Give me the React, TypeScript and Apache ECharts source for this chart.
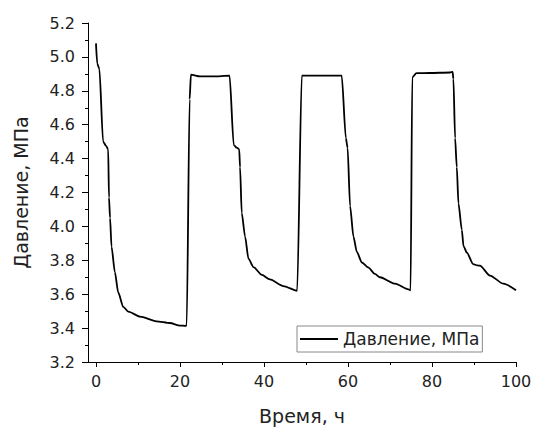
import React, { useEffect, useRef } from "react";
import * as echarts from "echarts";

const timeH = [
  0, 0.3, 0.8, 1.7, 2.4, 2.9, 3.1, 3.35, 3.7, 4.5, 5.3, 6.5, 7.7, 10.5, 14.4, 17.6, 20.0, 21.4,
  21.6, 22.3, 22.6, 24.8, 27.9, 31.8,
  32.8, 33.5, 34.1, 34.3, 34.7, 35.5, 36.3, 37.5, 39.5, 41.4, 44.6, 47.9,
  49.0, 54.0, 58.5,
  59.5, 59.9, 60.5, 61.3, 62.1, 63.3, 64.8, 66.4, 67.6, 71.2, 74.4, 74.9,
  75.3, 76.3, 79.5, 84.3, 84.9,
  85.1, 85.5, 85.9, 86.3, 87.1, 87.5, 88.3, 89.8, 90.8, 91.4, 93.8, 97.0, 100.0,
];

const pressureMPa = [
  5.08, 4.96, 4.93, 4.5, 4.475, 4.455, 4.17, 4.05, 3.88, 3.73, 3.61, 3.525, 3.497, 3.468, 3.44, 3.43, 3.415, 3.413,
  3.42, 4.75, 4.895, 4.885, 4.885, 4.889,
  4.48, 4.465, 4.455, 4.35, 4.08, 3.94, 3.81, 3.76, 3.714, 3.687, 3.648, 3.62,
  4.889, 4.889, 4.889,
  4.52, 4.464, 4.12, 3.94, 3.85, 3.787, 3.758, 3.72, 3.7, 3.662, 3.629, 3.622,
  4.879, 4.904, 4.905, 4.908, 4.912,
  4.87, 4.52, 4.35, 4.135, 3.98, 3.884, 3.845, 3.778, 3.77, 3.768, 3.71, 3.662, 3.623,
];

const xTickValues = [0, 20, 40, 60, 80, 100];
const xMinorTickValues = [10, 30, 50, 70, 90];
const seriesName = "Давление, МПа";
const xAxisTitle = "Время, ч";
const yAxisTitle = "Давление, МПа";

export default function App() {
  const ref = useRef<HTMLDivElement>(null);
  useEffect(() => {
    const chart = echarts.init(ref.current!, null, { renderer: "svg" });
    const font = "DejaVu Sans";
    const txt = "#222";
    chart.setOption({
      animation: false,
      grid: { left: 88, right: 19, top: 23, bottom: 62, containLabel: false },
      legend: {
        show: true,
        left: 297,
        top: 326,
        padding: [4, 3, 4, 3],
        borderColor: "#888",
        borderWidth: 1,
        itemWidth: 38,
        itemHeight: 2,
        icon: "rect",
        data: [seriesName],
        itemStyle: { color: "#000" },
        textStyle: { fontFamily: font, fontSize: 17, color: txt, lineHeight: 18 },
      },
      xAxis: [
        {
          type: "value",
          min: -1.9,
          max: 100,
          name: xAxisTitle,
          nameLocation: "middle",
          nameGap: 44,
          nameTextStyle: { fontFamily: font, fontSize: 19, color: txt },
          axisLine: { show: true, onZero: false, lineStyle: { color: "#000", width: 1 } },
          axisTick: { show: true, customValues: xTickValues, length: 5, lineStyle: { color: "#000" } },
          axisLabel: {
            show: true,
            customValues: xTickValues,
            margin: 11,
            fontFamily: font,
            fontSize: 16,
            color: txt,
          },
          splitLine: { show: false },
        },
        {
          type: "value",
          min: -1.9,
          max: 100,
          position: "bottom",
          axisLine: { show: false, onZero: false },
          axisTick: { show: true, customValues: xMinorTickValues, length: 3, lineStyle: { color: "#000" } },
          axisLabel: { show: false },
          splitLine: { show: false },
        },
      ],
      yAxis: {
        type: "value",
        min: 3.2,
        max: 5.2,
        interval: 0.2,
        name: yAxisTitle,
        nameLocation: "middle",
        nameGap: 58,
        nameTextStyle: { fontFamily: font, fontSize: 19, color: txt },
        axisLine: { show: true, onZero: false, lineStyle: { color: "#000", width: 1 } },
        axisTick: { show: true, length: 6, lineStyle: { color: "#000" } },
        minorTick: { show: true, splitNumber: 2, length: 3, lineStyle: { color: "#000" } },
        axisLabel: {
          margin: 13,
          fontFamily: font,
          fontSize: 16,
          color: txt,
          formatter: (v: number) => v.toFixed(1),
        },
        splitLine: { show: false },
        minorSplitLine: { show: false },
      },
      series: [
        {
          type: "line",
          name: seriesName,
          xAxisIndex: 0,
          data: timeH.map((t, i) => [t, pressureMPa[i]]),
          symbol: "none",
          smooth: 0.25,
          smoothMonotone: "x",
          lineStyle: { color: "#000", width: 1.8 },
          itemStyle: { color: "#000" },
        },
      ],
    });
    return () => chart.dispose();
  }, []);
  return (
    <div
      ref={ref}
      style={{ position: "fixed", left: 0, top: 0, width: 535, height: 430, background: "#fff" }}
    />
  );
}
